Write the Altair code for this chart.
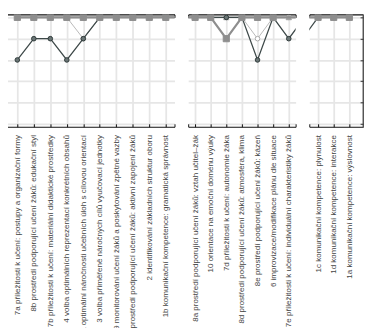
import altair as alt
import pandas as pd

categories = [
    "7a příležitosti k učení: postupy a organizační formy",
    "8b prostředí podporující učení žáků: edukační styl",
    "7b příležitosti k učení: materiální didaktické prostředky",
    "4 volba optimálních reprezentací konkrétních obsahů",
    "5 volba optimální náročnosti učebních úloh s cílovou orientací",
    "3 volba přiměřeně náročných cílů vyučovací jednotky",
    "9 monitorování učení žáků a poskytování zpětné vazby",
    "8c prostředí podporující učení žáků: aktivní zapojení žáků",
    "2 identifikování základních struktur oboru",
    "1b komunikační kompetence: gramatická správnost",
    "8a prostředí podporující učení žáků: vztah učitel–žák",
    "10 orientace na emoční doménu výuky",
    "7d příležitosti k učení: autonomie žáka",
    "8d prostředí podporující učení žáků: atmosféra, klima",
    "8e prostředí podporující učení žáků: kázeň",
    "6 improvizace/modifikace plánu dle situace",
    "7e příležitosti k učení: individuální charakteristiky žáků",
    "1c komunikační kompetence: plynulost",
    "1d komunikační kompetence: interakce",
    "1a komunikační kompetence: výslovnost",
]

series_triangle = [5, 5, 5, 5, 5, 5, 5, 5, 5, 5, 5, 5, 5, 5, 5, 5, 5, 5, 5, 5]
series_light = [5, 5, 5, 5, 4, 5, 5, 5, 5, 5, 5, 5, 5, 5, 4, 5, 5, 5, 5, 5]
series_dark = [3, 4, 4, 3, 4, 5, 5, 5, 5, 5, 5, 5, 5, 5, 3, 5, 4, 5, 5, 5]
series_square = [5, 5, 5, 5, 5, 5, 5, 5, 5, 5, 5, 5, 4, 5, 5, 5, None, 5, 5, 5]

panel_first = [0, 10, 17]
panel_last = [9, 16, 19]

rating_ticks = [0, 1, 2, 3, 4, 5]


def frame(vals):
    d = pd.DataFrame({"idx": list(range(len(vals))), "value": vals})
    return d.dropna()


# drawing order: bottom -> top
styles = [
    (series_light, "#b8b8b8", 1.0, "circle", "white", "#a8a8a8", 22),
    (series_triangle, "#a3a3a3", 1.5, "triangle-up", "#a3a3a3", "#a3a3a3", 30),
    (series_dark, "#3e4949", 1.3, "circle", "#6a7575", "#2f3a3a", 22),
    (series_square, "#8e8e8e", 2.2, "square", "#8e8e8e", "#8e8e8e", 40),
]

label_array = "[" + ",".join("'" + c.replace("'", "\\'") + "'" for c in categories) + "]"

ydom = [-0.14, 5.14]
xdoms = [[-0.95, 9.53], [9.56, 16.44], [16.44, 19.875]]
widths = [177, 110, 55]
H = 115


def panel(p):
    vals = list(range(panel_first[p], panel_last[p] + 1))
    tick_vals = [xdoms[p][0]] + vals + [xdoms[p][1]]
    xs = alt.Scale(domain=xdoms[p], nice=False, zero=False)
    ys = alt.Scale(domain=ydom, nice=False, zero=False)
    xaxis = alt.Axis(values=vals, labelExpr=label_array + "[datum.value]",
                     labelAngle=270, labelAlign="right", labelBaseline="middle",
                     labelPadding=8, labelLimit=0, grid=True, ticks=False,
                     domain=True, title=None, labelOverlap=False, labelFlush=False,
                     labelBound=False)
    if p == 0:
        yaxis = alt.Axis(values=rating_ticks, labels=False, ticks=False,
                         domain=True, grid=True, title=None, orient="left")
        ytick = alt.Axis(values=rating_ticks, labels=False, ticks=True, tickSize=3,
                         domain=False, grid=False, title=None, orient="left", offset=-3)
    elif p == 2:
        yaxis = alt.Axis(values=rating_ticks, labels=False, ticks=False,
                         domain=True, domainColor="#555555", domainWidth=2,
                         grid=True, title=None, orient="right")
        ytick = alt.Axis(values=rating_ticks, labels=False, ticks=True, tickSize=3,
                         tickColor="#333333",
                         domain=False, grid=False, title=None, orient="right", offset=-3)
    else:
        yaxis = alt.Axis(values=rating_ticks, labels=False, ticks=False,
                         domain=False, grid=True, title=None)
        ytick = None
    layers = []
    for vals_s, lc, lw, shape, fill, stroke, size in styles:
        d = frame(vals_s)
        enc = dict(x=alt.X("idx:Q", scale=xs, axis=xaxis),
                   y=alt.Y("value:Q", scale=ys, axis=yaxis))
        layers.append(alt.Chart(d).mark_line(color=lc, strokeWidth=lw, clip=True).encode(**enc))
        layers.append(alt.Chart(d).mark_point(shape=shape, filled=True, fill=fill, stroke=stroke,
                                              strokeWidth=1, size=size, opacity=1, clip=True).encode(**enc))
    inner = alt.layer(*layers)
    base = alt.Chart(frame(series_triangle)).mark_line(opacity=0, clip=True)
    top_dom = base.encode(
        x=alt.X("idx:Q", scale=xs,
                axis=alt.Axis(orient="top", labels=False, grid=False, ticks=False,
                              domain=True, title=None)),
        y=alt.Y("value:Q", scale=ys, axis=None),
    )
    bottom_ticks = base.encode(
        x=alt.X("idx:Q", scale=xs,
                axis=alt.Axis(orient="bottom", offset=-3, values=tick_vals, labels=False,
                              grid=False, ticks=True, tickSize=3, domain=False, title=None)),
        y=alt.Y("value:Q", scale=ys, axis=ytick),
    )
    top_ticks = base.encode(
        x=alt.X("idx:Q", scale=xs,
                axis=alt.Axis(orient="top", offset=-3, values=tick_vals, labels=False,
                              grid=False, ticks=True, tickSize=3, domain=False, title=None)),
        y=alt.Y("value:Q", scale=ys, axis=None),
    )
    return alt.layer(inner, top_dom, bottom_ticks, top_ticks).resolve_axis(
        x="independent", y="independent").properties(width=widths[p], height=H)


chart = alt.hconcat(panel(0), panel(1), panel(2), spacing=12).properties(
    padding={"left": -7.5, "top": 1.4, "right": 0, "bottom": 0}
).configure_view(stroke=None).configure_axis(
    domainColor="#111111", domainWidth=1.2, tickColor="#111111", tickWidth=1,
    gridColor="#e6e6e6", gridWidth=1.8,
    labelFont="Liberation Sans", labelFontSize=8.2, labelColor="#444444",
)

chart.save("out.html", embed_options={"renderer": "svg", "actions": False})
